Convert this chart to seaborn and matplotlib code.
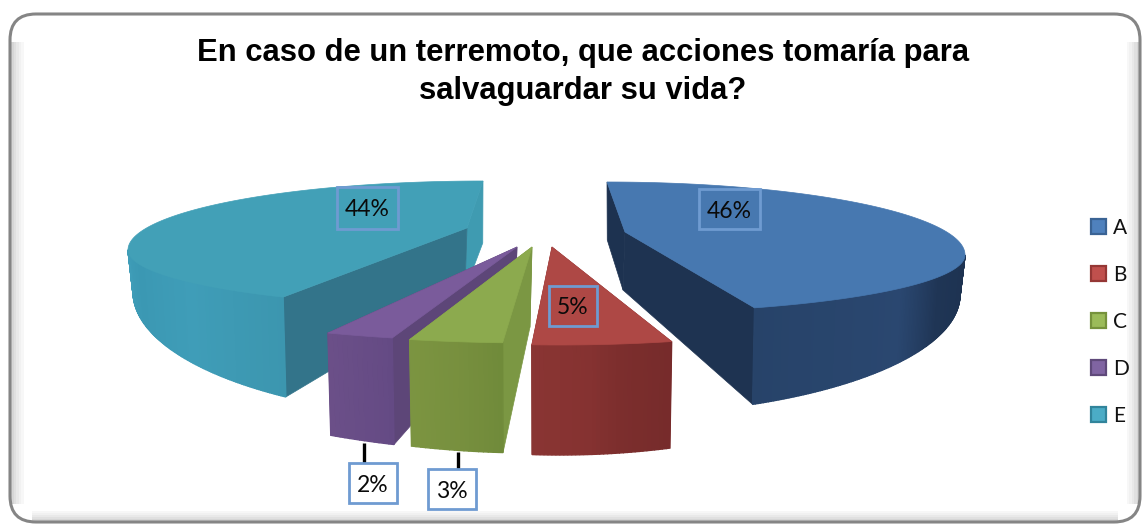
import numpy as np
import matplotlib
matplotlib.use('Agg')
import matplotlib.pyplot as plt
from matplotlib.colors import to_rgb
from matplotlib.patches import FancyBboxPatch, Patch, Polygon, Rectangle
import seaborn as sns

# Data
categories = ['A', 'B', 'C', 'D', 'E']
values = [46, 5, 3, 2, 44]
title_lines = ['En caso de un terremoto, que acciones tomaría para', 'salvaguardar su vida?']

sns.set_theme(style='white')
plt.rcParams['font.family'] = ['Lato', 'DejaVu Sans']

top_colors = sns.color_palette(['#4778B0', '#AE4845', '#8CAA4E', '#7A5B9B', '#42A0B7'])
legend_fill = ['#4F81BD', '#C0504D', '#9BBB59', '#8064A2', '#4BACC6']
legend_edge = ['#3A6394', '#953735', '#76923C', '#5F497A', '#31849B']

# Projection of each exploded slice, in pixels (the pie is not a true ellipse)
# faces: cut faces in drawing order, 's' = start of the slice, 'e' = end of it
geom = {
    'A': dict(apex=(625, 232), c=(607, 255), rx=358, ry=(73, 58), pivot=0, k=.94, d=(40, 62), ad=58,
              faces=[('s', '#1D3250'), ('e', '#1E3351')],
              wall=[(90, '#1D3250'), (112, '#1F3555'), (125, '#2A4770'), (156, '#274369')]),
    'B': dict(apex=(552, 247), c=(560, 235), rx=449, ry=(110, 110), pivot=0, k=1, d=(0, 110), ad=80,
              faces=[('e', '#853231'), ('s', '#853231')],
              wall=[(165, '#762B2B'), (172, '#7C2E2D'), (176, '#853231'), (184, '#8A3533')]),
    'C': dict(apex=(532, 247), c=(534, 233), rx=500, ry=(110, 110), pivot=0, k=1, d=(0, 110), ad=80,
              faces=[('e', '#7B9743'), ('s', '#7B9743')],
              wall=[(183, '#6F8A3A'), (188, '#778F3E'), (194.5, '#7C9541')]),
    'D': dict(apex=(517, 247), c=(526, 214), rx=538, ry=(128, 128), pivot=0, k=1, d=(0, 110), ad=60,
              faces=[('e', '#5D4678'), ('s', '#5D4678')],
              wall=[(194, '#644A84'), (202, '#6C5089')]),
    'E': dict(apex=(467, 228), c=(483, 250), rx=355, ry=(69, 57), pivot=360, k=.92, d=(42, 70), ad=62,
              faces=[('e', '#3F9BB1'), ('s', '#33748A')],
              wall=[(214, '#3C96AF'), (235, '#3F9DB8'), (255, '#3B98B3'), (270, '#3F9DB8')]),
}
draw_order = ['A', 'E', 'D', 'C', 'B']

# Data label boxes: left, top, width, height, leader line end
boxes = {
    'A': (699, 189, 61, 40, None),
    'B': (549, 286, 48, 40, None),
    'C': (428, 469, 48, 40, (458, 452)),
    'D': (349, 463, 48, 40, (364, 443)),
    'E': (337, 187, 61, 42, None),
}


def rim(g, theta):
    # theta in degrees clockwise from 12 o'clock
    phi = g['pivot'] + (np.asarray(theta, dtype=float) - g['pivot']) * g['k']
    rad = np.radians(phi)
    ry = np.where(np.cos(rad) > 0, g['ry'][0], g['ry'][1])
    x = g['c'][0] + g['rx'] * np.sin(rad)
    y = g['c'][1] - ry * np.cos(rad)
    return x, y, phi


def wall_depth(g, phi):
    return g['d'][0] + g['d'][1] * np.maximum(0, -np.cos(np.radians(phi)))


def wall_colour(g, phi):
    stops = g['wall']
    pos = [s[0] for s in stops]
    rgb = np.array([to_rgb(s[1]) for s in stops])
    return [np.interp(phi, pos, rgb[:, i]) for i in range(3)]


fig, ax = plt.subplots(figsize=(11.44, 5.25), dpi=100)
ax.set_position([0, 0, 1, 1])
ax.set_xlim(0, 1144)
ax.set_ylim(525, 0)
ax.axis('off')

# Frame with the soft shadow on the left, right and bottom sides
for step, colour in enumerate(['#D6D6D6', '#E0E0E0', '#E9E9E9', '#F1F1F1', '#F7F7F7']):
    ax.add_patch(Rectangle((11 + step * 2.5, 42), 2.5, 462, fc=colour, ec='none'))
    ax.add_patch(Rectangle((1136.5 - step * 2.5, 42), 2.5, 462, fc=colour, ec='none'))
    ax.add_patch(Rectangle((32, 518.5 - step * 2), 1086, 2, fc=colour, ec='none'))
ax.add_patch(FancyBboxPatch((10, 14), 1130, 508, boxstyle='round,pad=0,rounding_size=26',
                            fc='none', ec='#858585', lw=2.2))

# Slices, back to front
edges = np.cumsum([0] + values) * 360 / sum(values)
spans = {name: (edges[i], edges[i + 1]) for i, name in enumerate(categories)}
for layer, name in enumerate(draw_order):
    g = geom[name]
    colour_top = top_colors[categories.index(name)]
    start, end = spans[name]
    apex_x, apex_y = g['apex']
    z = 3 + layer

    # Cut faces
    for which, colour in g['faces']:
        x, y, phi = rim(g, start if which == 's' else end)
        d = g['ad'] if np.cos(np.radians(phi)) > 0 else wall_depth(g, phi)
        ax.add_patch(Polygon([(apex_x, apex_y), (x, y), (apex_x + (x - apex_x) * .985, y + d),
                              (apex_x - 2, apex_y + g['ad'])], fc=colour, ec=colour, lw=.5, zorder=z))

    # Outer wall as strips so the shading can change along the rim
    thetas = np.linspace(start, end, max(int(end - start) * 2, 14))
    xs, ys, phis = rim(g, thetas)
    ds = wall_depth(g, phis)
    for j in range(len(thetas) - 1):
        if np.cos(np.radians(phis[j])) > 0 and np.cos(np.radians(phis[j + 1])) > 0:
            continue
        bx = [apex_x + (xs[m] - apex_x) * .985 for m in (j, j + 1)]
        colour = wall_colour(g, phis[j])
        ax.add_patch(Polygon([(xs[j], ys[j]), (xs[j + 1], ys[j + 1]), (bx[1], ys[j + 1] + ds[j + 1]),
                              (bx[0], ys[j] + ds[j])], fc=colour, ec=colour, lw=1, zorder=z))

    # Top face
    pts = [(apex_x, apex_y)] + list(zip(xs, ys))
    ax.add_patch(Polygon(pts, fc=colour_top, ec=colour_top, lw=.5, zorder=z))

# Data labels
for name, value in zip(categories, values):
    left, top, w, h, leader = boxes[name]
    if leader:
        ax.plot([leader[0], leader[0]], [leader[1], top], color='black', lw=2.4, zorder=9, solid_capstyle='butt')
    ax.add_patch(Rectangle((left, top), w, h, fc='white' if leader else 'none', ec='#6F9BD1', lw=2, zorder=10))
    ax.text(left + w / 2, top + h / 2 + 2, f'{value}%', ha='center', va='center', fontsize=16.5,
            color='#0A0A0A', zorder=11)

for line, y in zip(title_lines, [53, 91]):
    ax.text(583, y, line, ha='center', va='center', fontsize=22.3, fontweight='bold',
            family=['Liberation Sans', 'DejaVu Sans'], color='black')

handles = [Patch(fc=f, ec=e, lw=1.6) for f, e in zip(legend_fill, legend_edge)]
ax.legend(handles, categories, loc='upper left', bbox_to_anchor=(1072, 199), bbox_transform=ax.transData,
          frameon=False, fontsize=15, handlelength=.72, handleheight=.72, handletextpad=.35,
          labelspacing=1.3, labelcolor='#111111')

fig.savefig('out.png', dpi=100)
